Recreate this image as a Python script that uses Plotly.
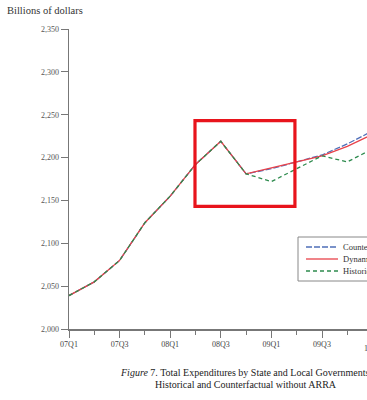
import plotly.graph_objects as go

quarters = ["07Q1", "07Q2", "07Q3", "07Q4", "08Q1", "08Q2", "08Q3", "08Q4",
            "09Q1", "09Q2", "09Q3", "09Q4", "10Q1"]
tick_labels = ["07Q1", "07Q3", "08Q1", "08Q3", "09Q1", "09Q3", "10Q1"]

historical = [2039, 2055, 2080, 2124, 2155, 2192, 2219, 2181, 2172, 2187, 2202, 2195, 2210]
dynamic = [2039, 2055, 2080, 2124, 2155, 2192, 2219, 2181, 2188, 2195, 2202, 2213, 2227]
counterfactual = [2039, 2055, 2080, 2124, 2155, 2192, 2219, 2181, 2187, 2195, 2203, 2216, 2231]

series_names = ["Counterfactual without ARRA", "Dynamic Counterfactual", "Historical"]
series_colors = ["#4f6fb8", "#e8424a", "#2e8b4e"]
series_dash = ["6px,2px", "solid", "4px,3px"]

y_ticks = [2000, 2050, 2100, 2150, 2200, 2250, 2300, 2350]
y_tick_text = ["2,000", "2,050", "2,100", "2,150", "2,200", "2,250", "2,300", "2,350"]

# highlight box (quarter index / value space)
box_x = [4.98, 8.93]
box_y = [2143, 2243]

xs = list(range(len(quarters)))
tick_idx = [quarters.index(q) for q in tick_labels]

FONT = "Liberation Serif"
L, T = 69, 29
W, H = 367, 400
PW = W - L  # plot width in px
PH = 300
QPX = 25.3


def px(xp):
    return (xp - L) / PW


def py(yp):
    return ((T + PH) - yp) / PH


fig = go.Figure()
for vals, name, col, dash in zip([counterfactual, dynamic, historical],
                                 series_names, series_colors, series_dash):
    fig.add_trace(go.Scatter(x=xs, y=vals, mode="lines", name=name,
                             line=dict(color=col, width=1.3, dash=dash)))

fig.add_shape(type="rect", xref="x", yref="y",
              x0=box_x[0], x1=box_x[1], y0=box_y[0], y1=box_y[1],
              line=dict(color="#e8141c", width=3.2), fillcolor="rgba(0,0,0,0)")

# custom legend box
fig.add_shape(type="rect", xref="paper", yref="paper",
              x0=px(298), x1=px(380), y0=py(281), y1=py(237),
              line=dict(color="#888888", width=1), fillcolor="white", layer="above")

annotations = []
for i, (name, col, dash) in enumerate(zip(series_names, series_colors, series_dash)):
    yy = 247 + 12 * i
    fig.add_shape(type="line", xref="paper", yref="paper",
                  x0=px(306), x1=px(338), y0=py(yy), y1=py(yy),
                  line=dict(color=col, width=1.3, dash=dash), layer="above")
    annotations.append(dict(text=name, xref="paper", yref="paper",
                            x=px(341), y=py(yy), xanchor="left", yanchor="middle",
                            showarrow=False,
                            font=dict(family=FONT, size=8.5, color="#333")))

annotations += [
    dict(text="Billions of dollars", xref="paper", yref="paper",
         x=px(5), y=py(10), xanchor="left", yanchor="middle",
         showarrow=False, font=dict(family=FONT, size=10.5, color="#333")),
    dict(text="<i>Figure</i> 7. Total Expenditures by State and Local Governments:",
         xref="paper", yref="paper", x=px(118), y=py(372),
         xanchor="left", yanchor="middle", showarrow=False,
         font=dict(family=FONT, size=10, color="#222")),
    dict(text="Historical and Counterfactual without ARRA",
         xref="paper", yref="paper", x=px(153), y=py(384),
         xanchor="left", yanchor="middle", showarrow=False,
         font=dict(family=FONT, size=10, color="#222")),
    dict(text=tick_labels[-1], xref="paper", yref="paper",
         x=(12 * QPX) / PW, y=py(348),
         xanchor="center", yanchor="middle", showarrow=False,
         font=dict(family=FONT, size=8, color="#444")),
]

fig.update_layout(
    width=W, height=H,
    margin=dict(l=L, r=0, t=T, b=H - T - PH, autoexpand=False),
    paper_bgcolor="white", plot_bgcolor="white",
    font=dict(family=FONT, color="#333333", size=8),
    showlegend=False,
    hovermode=False,
    xaxis=dict(range=[0, PW / QPX], tickmode="array", tickvals=tick_idx,
               ticktext=tick_labels, ticks="outside", ticklen=7, tickcolor="#777",
               showline=True, linecolor="#777", linewidth=1.5, showgrid=False,
               zeroline=False, tickfont=dict(size=8, color="#444"),
               minor=dict(tickvals=xs, ticks="outside", ticklen=4, tickcolor="#777")),
    yaxis=dict(range=[2000, 2350], tickmode="array", tickvals=y_ticks,
               ticktext=y_tick_text, ticks="outside", ticklen=7, tickcolor="#777",
               showline=True, linecolor="#777", linewidth=1.5, showgrid=False,
               zeroline=False, tickfont=dict(size=8, color="#555")),
    annotations=annotations,
)

fig.write_html("out.html",
               config={"displayModeBar": False, "staticPlot": True},
               post_script="document.body.style.margin='0';document.body.style.overflow='hidden';")
